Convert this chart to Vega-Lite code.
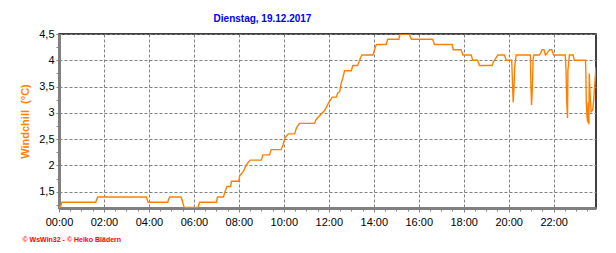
{
  "$schema": "https://vega.github.io/schema/vega-lite/v6.json",
  "width": 537,
  "height": 174,
  "autosize": "none",
  "padding": {"left": 59, "top": 34, "right": 20, "bottom": 45},
  "background": "#ffffff",
  "config": {"view": {"stroke": "#000000", "strokeWidth": 1.5}, "font": "Liberation Sans"},
  "title": {"text": "Dienstag, 19.12.2017", "color": "#0000FF", "font": "Liberation Sans", "fontSize": 10, "fontWeight": "bold", "anchor": "middle", "dx": -65, "offset": 4},
  "data": {"values": [
    {"t": "2017-12-19T00:00", "v": 1.2},
    {"t": "2017-12-19T00:03", "v": 1.2},
    {"t": "2017-12-19T00:08", "v": 1.3},
    {"t": "2017-12-19T01:38", "v": 1.3},
    {"t": "2017-12-19T01:43", "v": 1.4},
    {"t": "2017-12-19T03:53", "v": 1.4},
    {"t": "2017-12-19T03:58", "v": 1.3},
    {"t": "2017-12-19T04:50", "v": 1.3},
    {"t": "2017-12-19T04:55", "v": 1.4},
    {"t": "2017-12-19T05:26", "v": 1.4},
    {"t": "2017-12-19T05:30", "v": 1.3},
    {"t": "2017-12-19T05:34", "v": 1.2},
    {"t": "2017-12-19T06:11", "v": 1.2},
    {"t": "2017-12-19T06:15", "v": 1.3},
    {"t": "2017-12-19T07:00", "v": 1.3},
    {"t": "2017-12-19T07:03", "v": 1.4},
    {"t": "2017-12-19T07:19", "v": 1.4},
    {"t": "2017-12-19T07:23", "v": 1.5},
    {"t": "2017-12-19T07:28", "v": 1.6},
    {"t": "2017-12-19T07:38", "v": 1.6},
    {"t": "2017-12-19T07:40", "v": 1.7},
    {"t": "2017-12-19T08:00", "v": 1.7},
    {"t": "2017-12-19T08:02", "v": 1.8},
    {"t": "2017-12-19T08:08", "v": 1.85},
    {"t": "2017-12-19T08:13", "v": 1.9},
    {"t": "2017-12-19T08:19", "v": 2.0},
    {"t": "2017-12-19T08:24", "v": 2.05},
    {"t": "2017-12-19T08:30", "v": 2.1},
    {"t": "2017-12-19T09:00", "v": 2.1},
    {"t": "2017-12-19T09:04", "v": 2.2},
    {"t": "2017-12-19T09:22", "v": 2.2},
    {"t": "2017-12-19T09:26", "v": 2.3},
    {"t": "2017-12-19T09:53", "v": 2.3},
    {"t": "2017-12-19T09:58", "v": 2.4},
    {"t": "2017-12-19T10:02", "v": 2.5},
    {"t": "2017-12-19T10:06", "v": 2.55},
    {"t": "2017-12-19T10:12", "v": 2.6},
    {"t": "2017-12-19T10:29", "v": 2.6},
    {"t": "2017-12-19T10:33", "v": 2.7},
    {"t": "2017-12-19T10:37", "v": 2.75},
    {"t": "2017-12-19T10:42", "v": 2.8},
    {"t": "2017-12-19T11:22", "v": 2.8},
    {"t": "2017-12-19T11:26", "v": 2.87},
    {"t": "2017-12-19T11:31", "v": 2.91},
    {"t": "2017-12-19T11:40", "v": 2.98},
    {"t": "2017-12-19T11:49", "v": 3.05},
    {"t": "2017-12-19T11:58", "v": 3.17},
    {"t": "2017-12-19T12:02", "v": 3.22},
    {"t": "2017-12-19T12:09", "v": 3.3},
    {"t": "2017-12-19T12:20", "v": 3.3},
    {"t": "2017-12-19T12:24", "v": 3.38},
    {"t": "2017-12-19T12:29", "v": 3.4},
    {"t": "2017-12-19T12:33", "v": 3.56},
    {"t": "2017-12-19T12:38", "v": 3.68},
    {"t": "2017-12-19T12:42", "v": 3.8},
    {"t": "2017-12-19T13:00", "v": 3.8},
    {"t": "2017-12-19T13:04", "v": 3.9},
    {"t": "2017-12-19T13:17", "v": 3.9},
    {"t": "2017-12-19T13:22", "v": 4.0},
    {"t": "2017-12-19T13:28", "v": 4.1},
    {"t": "2017-12-19T13:58", "v": 4.1},
    {"t": "2017-12-19T14:02", "v": 4.2},
    {"t": "2017-12-19T14:07", "v": 4.3},
    {"t": "2017-12-19T14:33", "v": 4.3},
    {"t": "2017-12-19T14:37", "v": 4.4},
    {"t": "2017-12-19T15:07", "v": 4.4},
    {"t": "2017-12-19T15:10", "v": 4.5},
    {"t": "2017-12-19T15:35", "v": 4.5},
    {"t": "2017-12-19T15:40", "v": 4.4},
    {"t": "2017-12-19T16:37", "v": 4.4},
    {"t": "2017-12-19T16:42", "v": 4.3},
    {"t": "2017-12-19T17:29", "v": 4.3},
    {"t": "2017-12-19T17:32", "v": 4.2},
    {"t": "2017-12-19T17:53", "v": 4.2},
    {"t": "2017-12-19T17:58", "v": 4.1},
    {"t": "2017-12-19T18:20", "v": 4.1},
    {"t": "2017-12-19T18:24", "v": 4.0},
    {"t": "2017-12-19T18:37", "v": 4.0},
    {"t": "2017-12-19T18:42", "v": 3.9},
    {"t": "2017-12-19T19:16", "v": 3.9},
    {"t": "2017-12-19T19:19", "v": 3.97},
    {"t": "2017-12-19T19:25", "v": 4.03},
    {"t": "2017-12-19T19:31", "v": 4.1},
    {"t": "2017-12-19T19:49", "v": 4.1},
    {"t": "2017-12-19T19:53", "v": 4.0},
    {"t": "2017-12-19T20:08", "v": 4.0},
    {"t": "2017-12-19T20:09", "v": 3.8},
    {"t": "2017-12-19T20:11", "v": 3.4},
    {"t": "2017-12-19T20:12", "v": 3.2},
    {"t": "2017-12-19T20:14", "v": 3.45},
    {"t": "2017-12-19T20:16", "v": 3.87},
    {"t": "2017-12-19T20:20", "v": 4.1},
    {"t": "2017-12-19T20:58", "v": 4.1},
    {"t": "2017-12-19T20:59", "v": 3.6},
    {"t": "2017-12-19T21:01", "v": 3.15},
    {"t": "2017-12-19T21:03", "v": 3.43},
    {"t": "2017-12-19T21:05", "v": 4.0},
    {"t": "2017-12-19T21:07", "v": 4.1},
    {"t": "2017-12-19T21:22", "v": 4.1},
    {"t": "2017-12-19T21:26", "v": 4.15},
    {"t": "2017-12-19T21:29", "v": 4.2},
    {"t": "2017-12-19T21:34", "v": 4.2},
    {"t": "2017-12-19T21:38", "v": 4.1},
    {"t": "2017-12-19T21:44", "v": 4.15},
    {"t": "2017-12-19T21:49", "v": 4.2},
    {"t": "2017-12-19T21:55", "v": 4.2},
    {"t": "2017-12-19T22:00", "v": 4.1},
    {"t": "2017-12-19T22:31", "v": 4.1},
    {"t": "2017-12-19T22:33", "v": 3.8},
    {"t": "2017-12-19T22:35", "v": 3.2},
    {"t": "2017-12-19T22:37", "v": 2.9},
    {"t": "2017-12-19T22:38", "v": 3.8},
    {"t": "2017-12-19T22:42", "v": 4.1},
    {"t": "2017-12-19T22:52", "v": 4.1},
    {"t": "2017-12-19T22:55", "v": 4.0},
    {"t": "2017-12-19T23:25", "v": 4.0},
    {"t": "2017-12-19T23:26", "v": 3.75},
    {"t": "2017-12-19T23:27", "v": 3.2},
    {"t": "2017-12-19T23:29", "v": 2.92},
    {"t": "2017-12-19T23:31", "v": 2.82},
    {"t": "2017-12-19T23:32", "v": 3.2},
    {"t": "2017-12-19T23:34", "v": 2.78},
    {"t": "2017-12-19T23:35", "v": 3.75},
    {"t": "2017-12-19T23:37", "v": 3.4},
    {"t": "2017-12-19T23:40", "v": 3.02},
    {"t": "2017-12-19T23:44", "v": 3.05},
    {"t": "2017-12-19T23:47", "v": 3.25},
    {"t": "2017-12-19T23:51", "v": 3.68},
    {"t": "2017-12-19T23:53", "v": 3.87}
  ]},
  "resolve": {"axis": {"x": "independent", "y": "independent"}},
  "layer": [
    {
      "mark": {"type": "line", "color": "#FF8000", "strokeWidth": 1, "opacity": 0, "clip": true},
      "encoding": {
        "x": {
          "field": "t",
          "type": "temporal",
          "scale": {"domain": [{"year": 2017, "month": 12, "date": 19, "hours": 0, "minutes": 0}, {"year": 2017, "month": 12, "date": 19, "hours": 23, "minutes": 53}]},
          "axis": {
            "orient": "bottom",
            "title": null,
            "tickCount": 48,
            "labels": false,
            "grid": false,
            "domain": false,
            "tickSize": 3,
            "tickColor": "#808080",
            "tickWidth": 1
          }
        },
        "y": {
          "field": "v",
          "type": "quantitative",
          "scale": {"domain": [1.19, 4.5], "nice": false, "zero": false},
          "axis": {
            "orient": "left",
            "title": null,
            "values": [1.25, 1.75, 2.25, 2.75, 3.25, 3.75, 4.25],
            "labels": false,
            "grid": false,
            "domain": false,
            "tickSize": 3,
            "tickColor": "#808080",
            "tickWidth": 1
          }
        }
      }
    },
    {
      "mark": {"type": "line", "color": "#FF8000", "strokeWidth": 1.4, "clip": true},
      "encoding": {
        "x": {
          "field": "t",
          "type": "temporal",
          "axis": {
            "orient": "bottom",
            "title": "© WsWin32 - © Heiko Blädern",
            "titleColor": "#FF0000",
            "titleFont": "Liberation Sans",
            "titleFontSize": 7,
            "titleFontWeight": "bold",
            "titleX": -37,
            "titleY": 31,
            "titleAlign": "left",
            "titleBaseline": "middle",
            "values": [
              {"year": 2017, "month": 12, "date": 19, "hours": 0},
              {"year": 2017, "month": 12, "date": 19, "hours": 2},
              {"year": 2017, "month": 12, "date": 19, "hours": 4},
              {"year": 2017, "month": 12, "date": 19, "hours": 6},
              {"year": 2017, "month": 12, "date": 19, "hours": 8},
              {"year": 2017, "month": 12, "date": 19, "hours": 10},
              {"year": 2017, "month": 12, "date": 19, "hours": 12},
              {"year": 2017, "month": 12, "date": 19, "hours": 14},
              {"year": 2017, "month": 12, "date": 19, "hours": 16},
              {"year": 2017, "month": 12, "date": 19, "hours": 18},
              {"year": 2017, "month": 12, "date": 19, "hours": 20},
              {"year": 2017, "month": 12, "date": 19, "hours": 22}
            ],
            "format": "%H:%M",
            "labelFont": "Liberation Sans",
            "labelFontSize": 11,
            "labelColor": "#000000",
            "labelPadding": 4,
            "labelFlush": false,
            "labelOverlap": false,
            "tickSize": 4,
            "tickColor": "#808080",
            "tickWidth": 1,
            "domainColor": "#808080",
            "domainWidth": 3,
            "grid": true,
            "gridColor": "#808080",
            "gridDash": [3, 2],
            "gridWidth": 1
          }
        },
        "y": {
          "field": "v",
          "type": "quantitative",
          "axis": {
            "orient": "left",
            "title": "Windchill\u00a0 (°C)",
            "titleColor": "#FF8000",
            "titleFont": "Liberation Sans",
            "titleFontSize": 11,
            "titleFontWeight": "bold",
            "titleAngle": 270,
            "titleX": -34,
            "titleY": 87,
            "titleAlign": "center",
            "titleBaseline": "middle",
            "values": [1.5, 2, 2.5, 3, 3.5, 4, 4.5],
            "labelExpr": "replace(format(datum.value, '~g'), '.', ',')",
            "labelFont": "Liberation Sans",
            "labelFontSize": 11,
            "labelColor": "#000000",
            "labelPadding": 2,
            "labelOverlap": false,
            "labelFlush": false,
            "tickSize": 3,
            "tickColor": "#808080",
            "tickWidth": 1,
            "domainColor": "#808080",
            "domainWidth": 3,
            "grid": true,
            "gridColor": "#808080",
            "gridDash": [3, 2],
            "gridWidth": 1
          }
        }
      }
    }
  ]
}
